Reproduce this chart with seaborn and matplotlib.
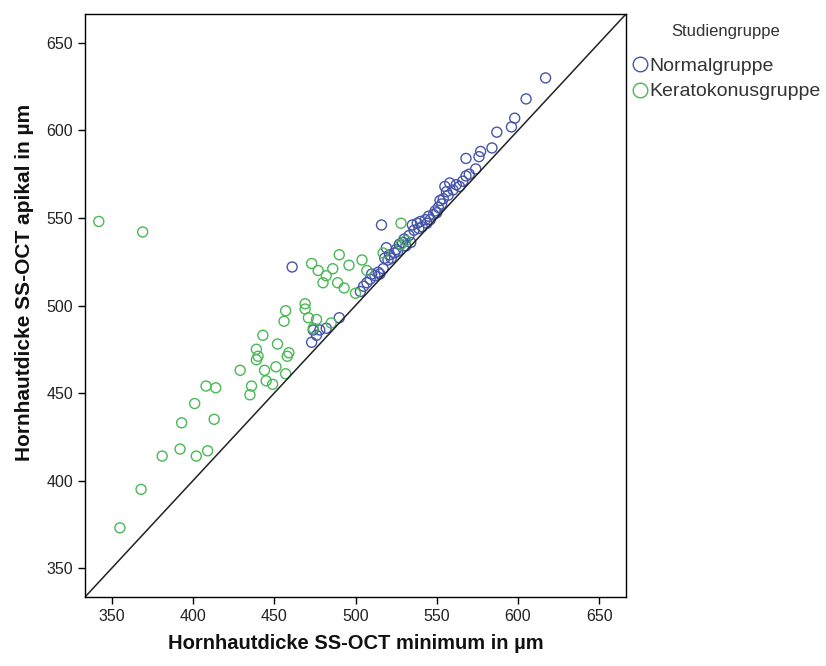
import matplotlib
matplotlib.use("Agg")
import matplotlib.pyplot as plt
from matplotlib.lines import Line2D
import seaborn as sns
import pandas as pd

# Normalgruppe (x = minimum, y = apikal)
normal_x = [461, 516, 473, 474, 478, 482, 490, 476,
            503, 505, 507, 509, 510, 512, 514, 515, 517, 518, 519, 520, 521, 522,
            524, 525, 526, 527, 529, 530, 531, 533, 534, 535, 536, 538, 539, 540,
            541, 543, 544, 545, 546, 548, 549, 550, 551, 552, 553, 554, 555, 556,
            557, 558, 560, 562, 564, 566, 568, 568, 570, 574, 576, 577, 584, 587,
            596, 598, 605, 617]
normal_y = [522, 546, 479, 486, 486, 487, 493, 483,
            508, 511, 513, 515, 518, 517, 519, 518, 521, 527, 533, 526, 529, 527,
            530, 532, 531, 535, 536, 538, 534, 540, 536, 546, 543, 547, 544, 548,
            545, 549, 547, 551, 549, 552, 554, 553, 556, 560, 558, 561, 568, 565,
            563, 570, 566, 569, 568, 571, 574, 584, 575, 578, 585, 588, 590, 599,
            602, 607, 618, 630]

# Keratokonusgruppe
kerato_x = [342, 369, 355, 368, 381, 392, 393, 401, 402, 409, 408, 413, 414,
            429, 435, 436, 439, 439, 440, 443, 444, 445, 449, 451, 452, 456, 457,
            457, 458, 459, 469, 469, 471, 473, 474, 476, 477, 480, 482, 485, 486,
            489, 490, 493, 496, 500, 504, 507, 517, 528, 528, 531]
kerato_y = [548, 542, 373, 395, 414, 418, 433, 444, 414, 417, 454, 435, 453,
            463, 449, 454, 469, 475, 471, 483, 463, 457, 455, 465, 478, 491, 497,
            461, 471, 473, 501, 498, 493, 524, 487, 492, 520, 513, 517, 490, 521,
            513, 529, 510, 523, 507, 526, 520, 530, 547, 535, 537]

groups = ["Normalgruppe", "Keratokonusgruppe"]
colors = ["#4656a8", "#49b855"]

df = pd.DataFrame({
    "x": normal_x + kerato_x,
    "y": normal_y + kerato_y,
    "Studiengruppe": [groups[0]] * len(normal_x) + [groups[1]] * len(kerato_x),
})

sns.set_theme(style="white")
plt.rcParams["font.family"] = ["Liberation Sans", "DejaVu Sans"]

fig = plt.figure(figsize=(8.26, 6.66), dpi=100)
ax = fig.add_axes([85 / 826, 69 / 666, 541 / 826, 583 / 666])

sns.scatterplot(data=df, x="x", y="y", hue="Studiengruppe", hue_order=groups,
                palette=colors, s=52, marker="o", linewidth=1.0, legend=False, ax=ax)
for coll in ax.collections:
    fc = coll.get_facecolors()
    coll.set_edgecolors(fc)
    coll.set_facecolors("none")

lo, hi = 333.5, 666.5
ax.plot([lo, hi], [lo, hi], color="#222222", lw=1.1, zorder=1)
ax.set_xlim(lo, hi)
ax.set_ylim(lo, hi)
ticks = [350, 400, 450, 500, 550, 600, 650]
ax.set_xticks(ticks)
ax.set_yticks(ticks)
ax.tick_params(axis="both", which="major", direction="out", length=5, width=1,
               color="black", labelsize=11.5, labelcolor="#222222", bottom=True, left=True)
for sp in ax.spines.values():
    sp.set_color("black")
    sp.set_linewidth(1.0)

ax.set_xlabel("Hornhautdicke SS-OCT minimum in µm", fontsize=14.5, fontweight="bold",
              color="#111111", labelpad=7)
ax.set_ylabel("Hornhautdicke SS-OCT apikal in µm", fontsize=15, fontweight="bold",
              color="#111111")
ax.yaxis.set_label_coords(-0.095, 0.54)

handles = [Line2D([0], [0], marker="o", linestyle="none", markersize=10.5,
                  markerfacecolor="none", markeredgecolor=c, markeredgewidth=1.0)
           for c in colors]
leg = fig.legend(handles, groups, title="Studiengruppe", loc="upper left",
                 bbox_to_anchor=(630 / 826, 1 - 24 / 666), frameon=False,
                 fontsize=14, title_fontsize=12, handletextpad=0.0,
                 handlelength=1.0, labelspacing=0.42, borderpad=0,
                 borderaxespad=0)
leg._legend_box.sep = 13
leg.get_title().set_color("#333333")
for t in leg.get_texts():
    t.set_color("#333333")

fig.savefig("out.png", dpi=100)
